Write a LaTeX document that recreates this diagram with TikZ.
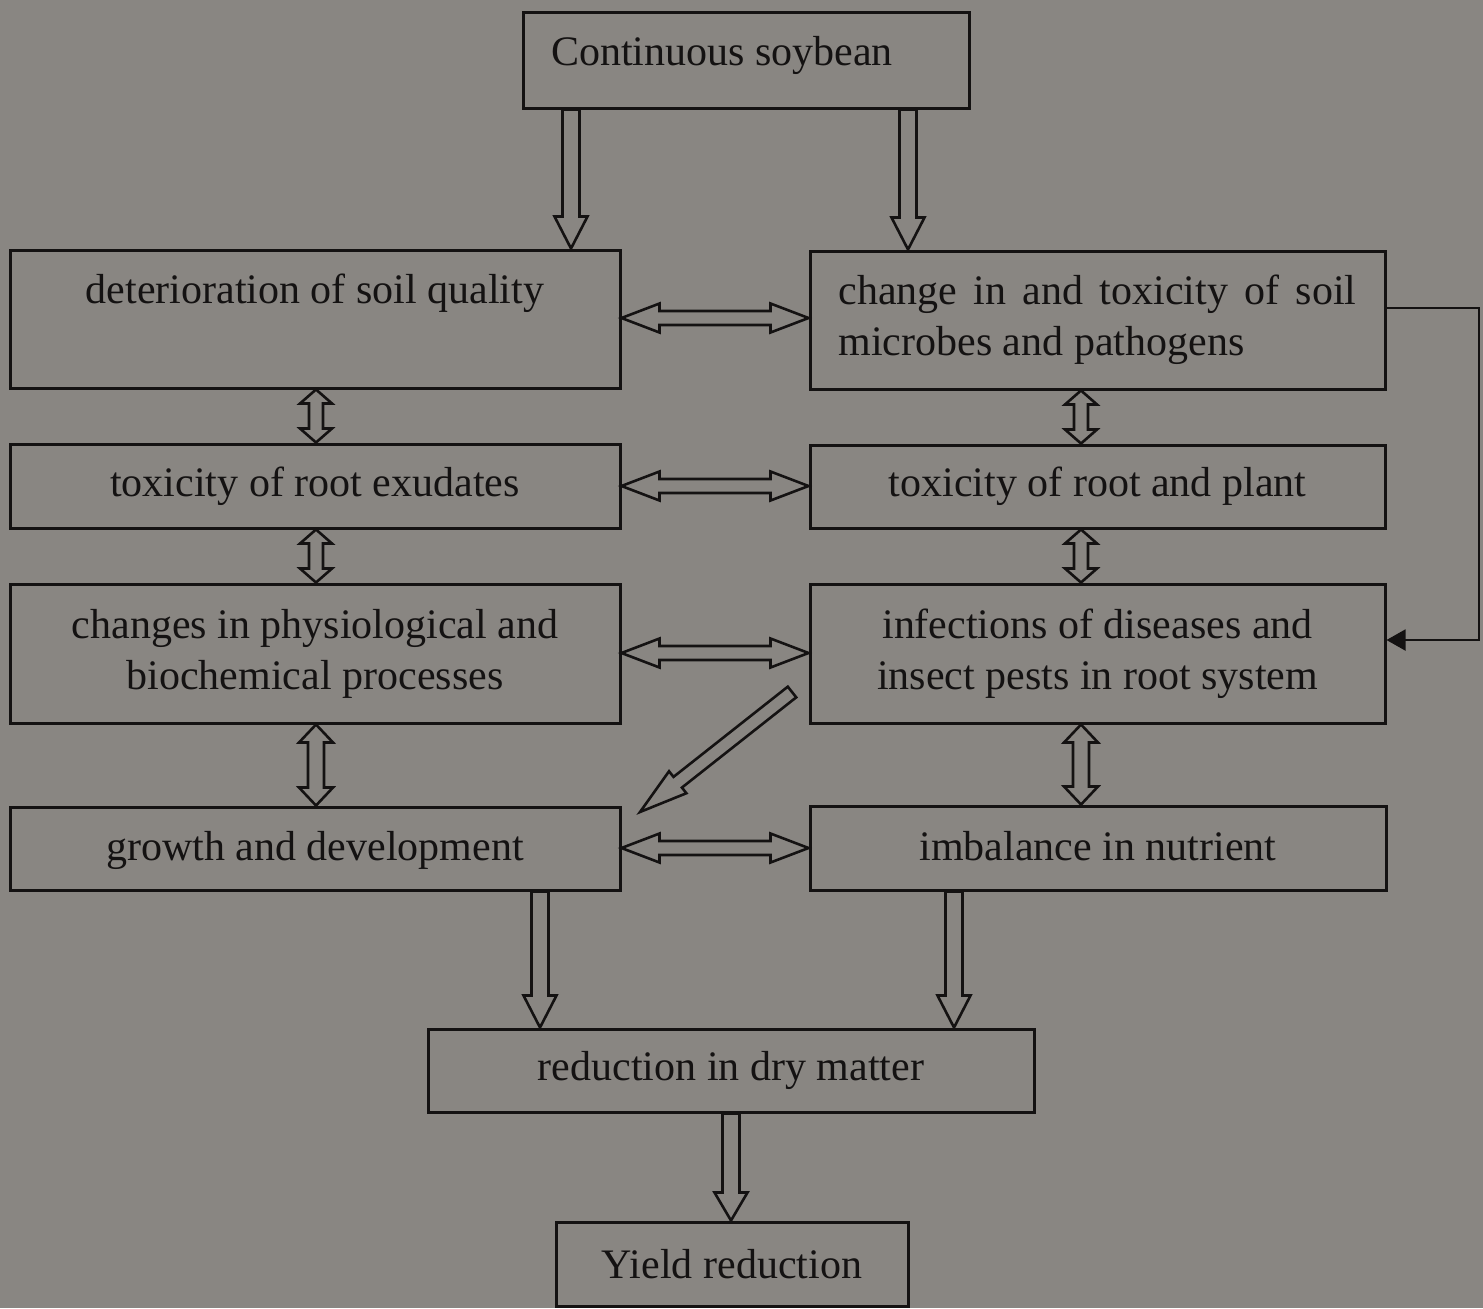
\documentclass[tikz,border=0pt]{standalone}
\usepackage{fontspec}
\setmainfont{Liberation Serif}
\usetikzlibrary{calc,arrows.meta}
\definecolor{bgc}{RGB}{137,134,130}
\definecolor{ink}{RGB}{20,18,18}
% single-headed hollow block arrow: start, end, shaft half-width, head half-width, head length
\newcommand\sarrow[5]{%
  \draw[blk] let \p1=(#1),\p2=(#2),\n1={atan2(\y2-\y1,\x2-\x1)},\n2={veclen(\x2-\x1,\y2-\y1)} in
   [shift={(\p1)},rotate=\n1]
   (0pt,#3) -- ({\n2-#5},#3) -- ({\n2-#5},#4) -- (\n2,0pt) -- ({\n2-#5},-#4) -- ({\n2-#5},-#3) -- (0pt,-#3) -- cycle;}
% double-headed hollow block arrow
\newcommand\darrow[5]{%
  \draw[blk] let \p1=(#1),\p2=(#2),\n1={atan2(\y2-\y1,\x2-\x1)},\n2={veclen(\x2-\x1,\y2-\y1)} in
   [shift={(\p1)},rotate=\n1]
   (0pt,0pt) -- (#5,#4) -- (#5,#3) -- ({\n2-#5},#3) -- ({\n2-#5},#4) -- (\n2,0pt) -- ({\n2-#5},-#4) -- ({\n2-#5},-#3) -- (#5,-#3) -- (#5,-#4) -- cycle;}
\begin{document}
\begin{tikzpicture}[x=0.5pt,y=-0.5pt,
  box/.style={draw=ink,line width=1.5pt,inner sep=0pt,align=center,text=ink,
     font=\fontsize{21pt}{25.5pt}\selectfont},
  blk/.style={draw=ink,line width=1.3pt,line join=miter},
  fb/.style={draw=ink,line width=1pt}]
\fill[bgc] (0,0) rectangle (1483,1308);
\useasboundingbox (0,0) rectangle (1483,1308);

\node[box,minimum width=223pt,minimum height=48pt,text depth=9.5pt] (top) at (746,60) {Continuous soybean\hspace*{24pt}};

\node[box,minimum width=305pt,minimum height=69pt] (b1) at (315,319) {deterioration of soil quality\\[5pt]\mbox{}};
\node[box,minimum width=287.5pt,minimum height=69pt,text width=259pt,align=justify] (r1) at (1097.5,320)
  {change in and toxicity of soil\linebreak microbes and pathogens};

\node[box,minimum width=305pt,minimum height=42pt] (b2) at (315,486) {toxicity of root exudates};
\node[box,minimum width=287.5pt,minimum height=41.5pt] (r2) at (1097.5,486.5) {toxicity of root and plant};

\node[box,minimum width=305pt,minimum height=69.5pt] (b3) at (315,653.5) {changes in physiological and\\biochemical processes};
\node[box,minimum width=287.5pt,minimum height=69.5pt] (r3) at (1097.5,653.5) {infections of diseases and\\insect pests in root system};

\node[box,minimum width=305pt,minimum height=41.5pt,text depth=2.5pt] (b4) at (315,848.5) {growth and development};
\node[box,minimum width=288pt,minimum height=42pt,text depth=2pt] (r4) at (1098,848) {imbalance in nutrient};

\node[box,minimum width=303pt,minimum height=41.5pt] (dm) at (731,1070.5) {reduction in dry matter};
\node[box,minimum width=176pt,minimum height=42pt] (yr) at (732,1264) {Yield reduction};

% top arrows
\sarrow{top.south -| 571,0}{b1.north -| 571,0}{4.25pt}{8.25pt}{16pt}
\sarrow{top.south -| 908,0}{r1.north -| 908,0}{4.25pt}{8.25pt}{16pt}

% horizontal double arrows
\darrow{b1.east |- 0,318}{r1.west |- 0,318}{3.5pt}{7.25pt}{19pt}
\darrow{b2.east |- 0,486}{r2.west |- 0,486}{3.5pt}{7.25pt}{19pt}
\darrow{b3.east |- 0,653}{r3.west |- 0,653}{3.5pt}{7.25pt}{19pt}
\darrow{b4.east |- 0,848}{r4.west |- 0,848}{3.5pt}{7.25pt}{19pt}

% vertical double arrows
\darrow{b1.south -| 316,0}{b2.north -| 316,0}{3.5pt}{8pt}{7pt}
\darrow{b2.south -| 316,0}{b3.north -| 316,0}{3.5pt}{8pt}{7pt}
\darrow{b3.south -| 316,0}{b4.north -| 316,0}{4pt}{8.5pt}{9pt}
\darrow{r1.south -| 1081,0}{r2.north -| 1081,0}{3.5pt}{8pt}{7pt}
\darrow{r2.south -| 1081,0}{r3.north -| 1081,0}{3.5pt}{8pt}{7pt}
\darrow{r3.south -| 1081,0}{r4.north -| 1081,0}{4pt}{8.5pt}{9pt}

% diagonal arrow
\coordinate (dtail) at (792,692);
\coordinate (dtip) at (640,812);
\sarrow{dtail}{dtip}{3.4pt}{7pt}{24pt}

% bottom arrows
\sarrow{b4.south -| 540,0}{dm.north -| 540,0}{4.25pt}{8.25pt}{16pt}
\sarrow{r4.south -| 954,0}{dm.north -| 954,0}{4.25pt}{8.25pt}{16pt}
\sarrow{dm.south -| 731,0}{yr.north -| 731,0}{4.25pt}{8.25pt}{14pt}

% feedback connector
\coordinate (fbc) at (1479,308);
\draw[fb,-{Triangle[length=9.5pt,width=10.5pt]}] (r1.east |- fbc) -- (fbc) |- (r3.east |- 0,640);
\end{tikzpicture}
\end{document}
